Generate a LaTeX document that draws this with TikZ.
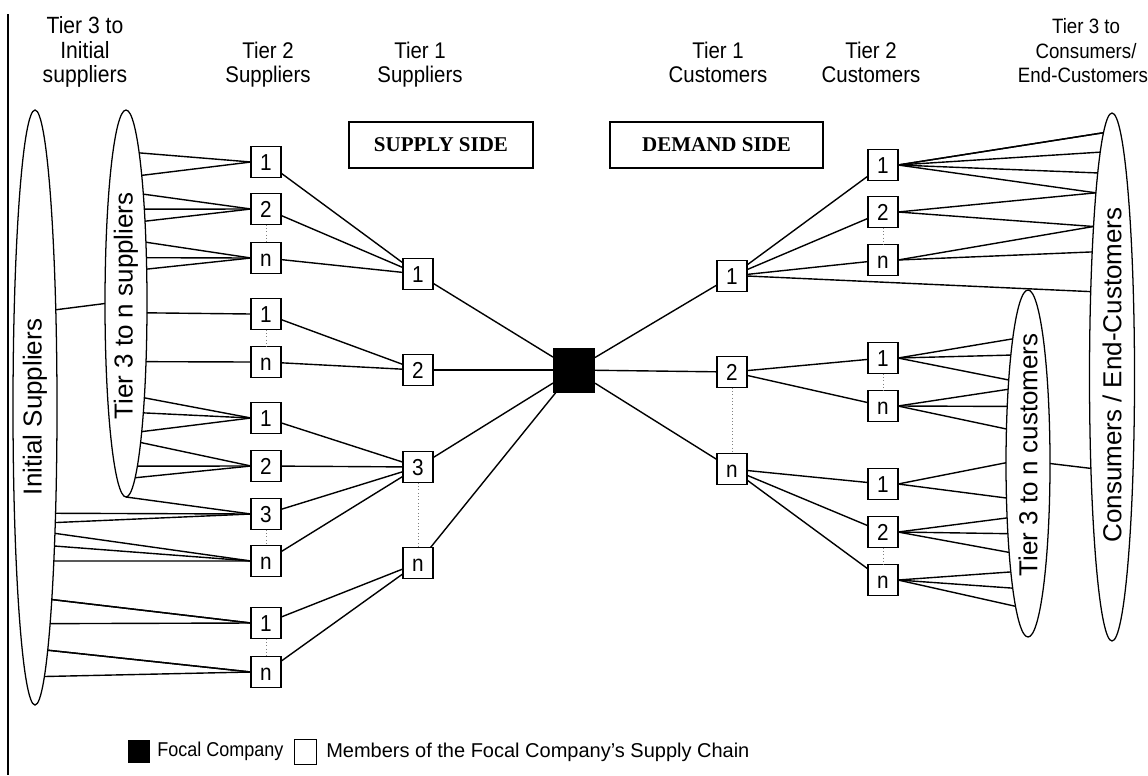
\documentclass[tikz,border=0pt]{standalone}
\usepackage{fontspec}
\setmainfont{Liberation Sans}
\newfontfamily\narrowfont{Liberation Sans}[FakeStretch=0.9]
\newfontfamily\sidefont{Liberation Serif}
\usetikzlibrary{shapes.geometric}

% Fan of links between an elliptic tier and a member box.
% #1 ellipse node, #2 centre y, #3 signed x radius (side of the ellipse),
% #4 y radius, #5 list of y positions on the ellipse, #6 box anchor
\newcommand\fanin[6]{%
  \foreach \yy in {#5}{%
    \pgfmathsetmacro\dyv{\yy-(#2)}%
    \pgfmathsetmacro\angv{atan2(-\dyv,(#3)*cos(asin(\dyv/(#4))))}%
    \draw[link] (#1.\angv) -- (#6);%
  }%
}

\begin{document}
\begin{tikzpicture}[x=0.75pt,y=-0.75pt,
  link/.style={line width=1.05pt},
  member/.style={draw, line width=0.85pt, fill=white, minimum width=30*0.75pt,
    minimum height=31*0.75pt, inner sep=0pt, outer sep=0pt,
    text height=12.4pt, text depth=0pt, font=\narrowfont\fontsize{17.3}{20}\selectfont},
  focal/.style={fill=black, minimum width=42*0.75pt, minimum height=45*0.75pt,
    inner sep=0pt, outer sep=0pt},
  tier/.style={draw, ellipse, line width=0.95pt, inner sep=0pt, outer sep=0pt},
  tierlabel/.style={rotate=90, inner sep=0pt, font=\fontsize{19.5}{22}\selectfont},
  hdr/.style={inner sep=0pt, anchor=base, font=\narrowfont\fontsize{17}{20}\selectfont},
  hdrl/.style={inner sep=0pt, anchor=base, font=\narrowfont\fontsize{17.6}{20}\selectfont},
  hdrr/.style={inner sep=0pt, anchor=base, font=\narrowfont\fontsize{15.6}{18}\selectfont},
  sidebox/.style={draw, line width=0.9pt, inner sep=0pt, minimum height=46*0.75pt,
    font=\sidefont\bfseries\fontsize{15.75}{18}\selectfont},
  legendn/.style={inner sep=0pt, anchor=west, font=\narrowfont\fontsize{15}{18}\selectfont},
  legendw/.style={inner sep=0pt, anchor=west, font=\fontsize{15}{18}\selectfont},
  gap/.style={dotted, line width=0.5pt, gray},
]
\useasboundingbox (0,0) rectangle (1148,775);

% frame line on the left
\coordinate (ftop) at (8,14);
\coordinate (fbot) at (8,775);
\draw[line width=0.8pt] (ftop) -- (fbot);

% column headings
\node[hdrl] (h3sa) at (85,33) {Tier 3 to};
\node[hdrl] (h3sb) at (85,58) {Initial};
\node[hdrl] (h3sc) at (85,82) {suppliers};
\node[hdr] (h2sa) at (268,58) {Tier 2};
\node[hdr] (h2sb) at (268,82) {Suppliers};
\node[hdr] (h1sa) at (420,58) {Tier 1};
\node[hdr] (h1sb) at (420,82) {Suppliers};
\node[hdr] (h1ca) at (718,58) {Tier 1};
\node[hdr] (h1cb) at (718,82) {Customers};
\node[hdr] (h2ca) at (871,58) {Tier 2};
\node[hdr] (h2cb) at (871,82) {Customers};
\node[hdrr] (h3ca) at (1086,33) {Tier 3 to};
\node[hdrr] (h3cb) at (1086,58) {Consumers/};
\node[hdrr] (h3cc) at (1083,82) {End-Customers};

% side boxes
\node[sidebox, minimum width=184*0.75pt] (supply) at (441,145) {SUPPLY SIDE};
\node[sidebox, minimum width=213*0.75pt] (demand) at (716.5,145) {DEMAND SIDE};

% elliptic tiers
\node[tier, minimum width=44*0.75pt, minimum height=595*0.75pt] (isup) at (35,407.5) {};
\node[tier, minimum width=42*0.75pt, minimum height=387*0.75pt] (tsup) at (126,303.5) {};
\node[tier, minimum width=44*0.75pt, minimum height=347*0.75pt] (tcus) at (1028,463.5) {};
\node[tier, minimum width=45*0.75pt, minimum height=528*0.75pt] (ccus) at (1112,377) {};
\node[tierlabel] (isupl) at (35,407) {Initial Suppliers};
\node[tierlabel] (tsupl) at (126,306) {Tier 3 to n suppliers};
\node[tierlabel] (tcusl) at (1028,455) {Tier 3 to n customers};
\node[tierlabel] (ccusl) at (1112,375) {Consumers / End-Customers};

% tier 2 suppliers
\node[member] (s2a) at (266,162) {1};
\node[member] (s2b) at (266,209) {2};
\node[member] (s2c) at (266,258) {n};
\node[member] (s2d) at (266,314) {1};
\node[member] (s2e) at (266,362) {n};
\node[member] (s2f) at (266,418) {1};
\node[member] (s2g) at (266,466) {2};
\node[member] (s2h) at (266,514) {3};
\node[member] (s2i) at (266,561) {n};
\node[member] (s2j) at (266,623) {1};
\node[member] (s2k) at (266,672) {n};

% tier 1 suppliers
\node[member] (s1a) at (418,274) {1};
\node[member] (s1b) at (418,370) {2};
\node[member] (s1c) at (418,467) {3};
\node[member] (s1d) at (418,563) {n};

% focal company
\node[focal] (f) at (574,370) {};

% tier 1 customers
\node[member] (c1a) at (732,276) {1};
\node[member] (c1b) at (732,372) {2};
\node[member] (c1c) at (732,469) {n};

% tier 2 customers
\node[member] (c2a) at (883,165) {1};
\node[member] (c2b) at (883,212) {2};
\node[member] (c2c) at (883,260) {n};
\node[member] (c2d) at (883,358) {1};
\node[member] (c2e) at (883,406) {n};
\node[member] (c2f) at (883,484) {1};
\node[member] (c2g) at (883,532) {2};
\node[member] (c2h) at (883,580) {n};

% links between the two outer tiers on each side
\fanin{isup}{407.5}{22}{297.5}{303.5}{tsup.west}
\fanin{ccus}{377}{-22.5}{264}{463.5}{tcus.east}

% tier 3 suppliers to tier 2 suppliers
\fanin{tsup}{303.5}{21}{193.5}{144,168}{s2a.west}
\fanin{tsup}{303.5}{21}{193.5}{192,209,221}{s2b.west}
\fanin{tsup}{303.5}{21}{193.5}{240,256,269}{s2c.west}
\fanin{tsup}{303.5}{21}{193.5}{313}{s2d.west}
\fanin{tsup}{303.5}{21}{193.5}{363}{s2e.west}
\fanin{tsup}{303.5}{21}{193.5}{402,419,432}{s2f.west}
\fanin{tsup}{303.5}{21}{193.5}{451,467,482}{s2g.west}
\draw[link] (tsup.south) -- (s2h.west);
\fanin{isup}{407.5}{22}{297.5}{515,528}{s2h.west}
\fanin{isup}{407.5}{22}{297.5}{543,559,572}{s2i.west}
\fanin{isup}{407.5}{22}{297.5}{605,622,638}{s2j.west}
\fanin{isup}{407.5}{22}{297.5}{654,673,689}{s2k.west}

% tier 2 to tier 1 suppliers
\draw[link] (s2a) -- (s1a);
\draw[link] (s2b) -- (s1a);
\draw[link] (s2c) -- (s1a);
\draw[link] (s2d) -- (s1b);
\draw[link] (s2e) -- (s1b);
\draw[link] (s2f) -- (s1c);
\draw[link] (s2g) -- (s1c);
\draw[link] (s2h) -- (s1c);
\draw[link] (s2i) -- (s1c);
\draw[link] (s2j) -- (s1d);
\draw[link] (s2k) -- (s1d);

% tier 1 suppliers to focal company to tier 1 customers
\draw[link] (s1a) -- (f);
\draw[link] (s1b) -- (f);
\draw[link] (s1c) -- (f);
\draw[link] (s1d) -- (f);
\draw[link] (f) -- (c1a);
\draw[link] (f) -- (c1b);
\draw[link] (f) -- (c1c);

% tier 1 to tier 2 customers
\draw[link] (c1a) -- (c2a);
\draw[link] (c1a) -- (c2b);
\draw[link] (c1a) -- (c2c);
\draw[link] (c1b) -- (c2d);
\draw[link] (c1b) -- (c2e);
\draw[link] (c1c) -- (c2f);
\draw[link] (c1c) -- (c2g);
\draw[link] (c1c) -- (c2h);

% tier 2 customers to the outer customer tiers
\fanin{ccus}{377}{-22.5}{264}{140,152,166,180,193}{c2a.east}
\fanin{ccus}{377}{-22.5}{264}{207,227}{c2b.east}
\fanin{ccus}{377}{-22.5}{264}{238,262}{c2c.east}
\fanin{ccus}{377}{-22.5}{264}{292}{c1a.east}
\fanin{tcus}{463.5}{-22}{173.5}{342,362,380}{c2d.east}
\fanin{tcus}{463.5}{-22}{173.5}{391,408,430}{c2e.east}
\fanin{tcus}{463.5}{-22}{173.5}{463,497}{c2f.east}
\fanin{tcus}{463.5}{-22}{173.5}{517,533,548}{c2g.east}
\fanin{tcus}{463.5}{-22}{173.5}{565,583,602}{c2h.east}

% omitted members
\draw[gap] (s2b.south) -- (s2c.north);
\draw[gap] (s2d.south) -- (s2e.north);
\draw[gap] (s2h.south) -- (s2i.north);
\draw[gap] (s2j.south) -- (s2k.north);
\draw[gap] (s1c.south) -- (s1d.north);
\draw[gap] (c1b.south) -- (c1c.north);
\draw[gap] (c2b.south) -- (c2c.north);
\draw[gap] (c2d.south) -- (c2e.north);
\draw[gap] (c2g.south) -- (c2h.north);

% legend
\node[fill=black, minimum width=22*0.75pt, minimum height=23*0.75pt, inner sep=0pt] (lgf) at (139,751) {};
\node[legendn] (lgft) at (157,751) {Focal Company};
\node[draw, line width=0.6pt, minimum width=22*0.75pt, minimum height=25*0.75pt, inner sep=0pt] (lgm) at (305,752) {};
\node[legendw] (lgmt) at (326,752) {Members of the Focal Company’s Supply Chain};
\end{tikzpicture}
\end{document}
